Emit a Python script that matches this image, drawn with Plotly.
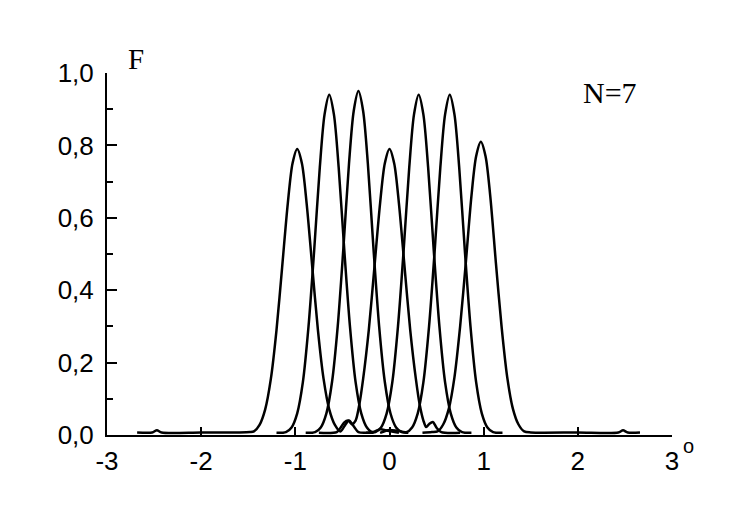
import plotly.graph_objects as go

# ---- data (angle, F) ----
x1 = [-2.68, -2.52, -2.47, -2.42, -2.0, -1.6, -1.48, -1.44, -1.38, -1.32, -1.26, -1.20, -1.14, -1.08, -1.03, -0.98,
      -0.93, -0.88, -0.82, -0.76, -0.70, -0.64, -0.58, -0.52, -0.47, -0.43, -0.38, -0.33, -0.20]
y1 = [0.007, 0.007, 0.013, 0.007, 0.007, 0.007, 0.008, 0.010, 0.028, 0.071, 0.155, 0.29, 0.464, 0.64, 0.75, 0.79,
      0.75, 0.64, 0.464, 0.29, 0.155, 0.071, 0.028, 0.010, 0.028, 0.040, 0.024, 0.008, 0.007]

x2 = [-1.20, -1.10, -1.04, -0.98, -0.92, -0.86, -0.80, -0.74, -0.69, -0.64, -0.59, -0.54, -0.48, -0.42, -0.36,
      -0.30, -0.24, -0.18, -0.10, -0.02, 0.10]
y2 = [0.006, 0.008, 0.021, 0.06, 0.146, 0.30, 0.51, 0.74, 0.885, 0.94, 0.885, 0.74, 0.51, 0.30, 0.146,
      0.06, 0.021, 0.008, 0.016, 0.012, 0.006]

x3 = [-0.89, -0.79, -0.73, -0.67, -0.61, -0.55, -0.49, -0.43, -0.38, -0.33, -0.28, -0.23, -0.17, -0.11, -0.05,
      0.01, 0.07, 0.13, 0.20]
y3 = [0.006, 0.008, 0.021, 0.06, 0.147, 0.30, 0.515, 0.75, 0.895, 0.95, 0.895, 0.75, 0.515, 0.30, 0.147,
      0.06, 0.021, 0.008, 0.006]

x4 = [-0.75, -0.56, -0.52, -0.48, -0.44, -0.40, -0.36, -0.32, -0.28, -0.22, -0.16, -0.10, -0.05, 0.0,
      0.05, 0.10, 0.16, 0.22, 0.28, 0.32, 0.36, 0.39, 0.42, 0.46, 0.50, 0.55, 0.75]
y4 = [0.006, 0.008, 0.020, 0.035, 0.040, 0.030, 0.040, 0.085, 0.155, 0.29, 0.464, 0.64, 0.75, 0.79,
      0.75, 0.64, 0.464, 0.29, 0.155, 0.085, 0.040, 0.022, 0.030, 0.036, 0.020, 0.008, 0.006]

x5 = [-0.25, -0.15, -0.09, -0.03, 0.03, 0.09, 0.15, 0.21, 0.26, 0.31, 0.36, 0.41, 0.47, 0.53, 0.59,
      0.65, 0.71, 0.77, 0.87]
y5 = [0.006, 0.008, 0.021, 0.06, 0.146, 0.30, 0.51, 0.74, 0.885, 0.94, 0.885, 0.74, 0.51, 0.30, 0.146,
      0.06, 0.021, 0.008, 0.006]

x6 = [-0.10, 0.0, 0.08, 0.18, 0.24, 0.30, 0.36, 0.42, 0.48, 0.54, 0.59, 0.64, 0.69, 0.74, 0.80, 0.86,
      0.92, 0.98, 1.04, 1.10, 1.20]
y6 = [0.006, 0.014, 0.012, 0.008, 0.021, 0.06, 0.146, 0.30, 0.51, 0.74, 0.885, 0.94, 0.885, 0.74, 0.51, 0.30,
      0.146, 0.06, 0.021, 0.008, 0.006]

x7 = [0.35, 0.45, 0.51, 0.57, 0.63, 0.69, 0.75, 0.81, 0.87, 0.92, 0.97, 1.02, 1.07, 1.13, 1.19, 1.25,
      1.31, 1.37, 1.43, 1.50, 2.0, 2.43, 2.48, 2.53, 2.66]
y7 = [0.006, 0.008, 0.010, 0.029, 0.073, 0.16, 0.30, 0.475, 0.66, 0.77, 0.81, 0.77, 0.66, 0.475, 0.30, 0.16,
      0.073, 0.029, 0.010, 0.007, 0.007, 0.007, 0.013, 0.007, 0.007]

curves = [(x1, y1), (x2, y2), (x3, y3), (x4, y4), (x5, y5), (x6, y6), (x7, y7)]

x_tickvals = [-3, -2, -1, 0, 1, 2, 3]
x_ticktext = ["-3", "-2", "-1", "0", "1", "2", "3"]

SANS = "Liberation Sans, Arial, sans-serif"
SERIF = "Liberation Serif, Times New Roman, serif"

fig = go.Figure()
for xs, ys in curves:
    fig.add_trace(go.Scatter(x=xs, y=ys, mode="lines",
                             line=dict(color="black", width=2.5, shape="spline", smoothing=0.8),
                             cliponaxis=False, showlegend=False, hoverinfo="skip"))

fig.update_layout(
    width=740, height=515,
    margin=dict(l=99, r=76, t=65, b=88),
    paper_bgcolor="white", plot_bgcolor="white",
    separators=", ",
    showlegend=False,
    xaxis=dict(range=[-3, 3], tickmode="array", tickvals=x_tickvals, ticktext=x_ticktext,
               showline=True, linecolor="black", linewidth=2, mirror=False,
               ticks="inside", ticklen=8, tickwidth=2, tickcolor="black",
               showgrid=False, zeroline=False,
               tickfont=dict(family=SANS, size=26, color="black"), ticklabelstandoff=2),
    yaxis=dict(range=[0, 1.0], tick0=0, dtick=0.2, tickformat=".1f",
               showline=True, linecolor="black", linewidth=2, mirror=False,
               ticks="inside", ticklen=10, tickwidth=2, tickcolor="black",
               minor=dict(ticks="inside", ticklen=6, tickwidth=2, tickcolor="black", dtick=0.1, tick0=0,
                          showgrid=False),
               showgrid=False, zeroline=False,
               tickfont=dict(family=SANS, size=26, color="black"), ticklabelstandoff=6),
    annotations=[
        dict(text="F", xref="paper", yref="paper", x=0.052, y=1.04, xanchor="center", yanchor="middle",
             showarrow=False, font=dict(family=SERIF, size=29, color="black")),
        dict(text="N=7", xref="paper", yref="paper", x=0.89, y=0.946, xanchor="center", yanchor="middle",
             showarrow=False, font=dict(family=SERIF, size=30, color="black")),
        dict(text="o", xref="x", yref="paper", x=3, y=-0.03, xanchor="left", yanchor="middle",
             xshift=9, showarrow=False, font=dict(family=SANS, size=20, color="black")),
    ],
)

fig.write_html("out.html")
